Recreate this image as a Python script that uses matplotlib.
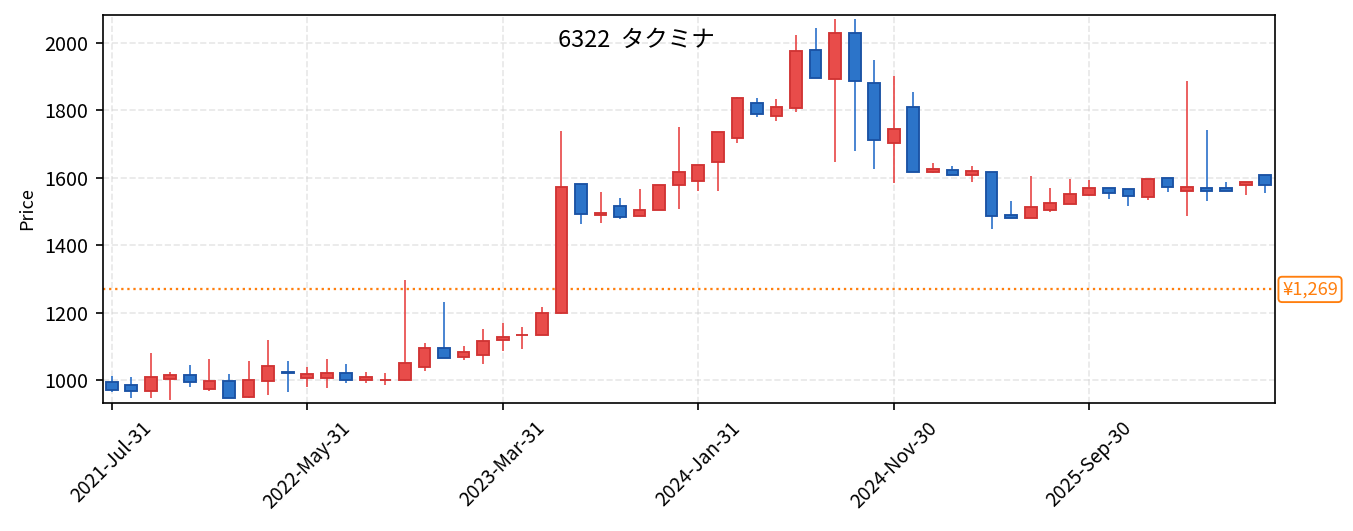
import matplotlib
matplotlib.use("Agg")
import matplotlib.pyplot as plt
import matplotlib.transforms as mtransforms
import numpy as np
import pandas as pd

plt.rcParams["font.family"] = ["Noto Sans CJK JP", "DejaVu Sans"]

TITLE = "6322  タクミナ"
REF_PRICE = 1269

# monthly bars, month-end dates
DATES = pd.date_range("2021-07-31", periods=60, freq="ME")

OPEN = [994, 985, 968, 1004, 1015, 975, 998, 950, 998, 1024,
        1007, 1007, 1022, 1001, 999, 1001, 1040, 1094, 1070, 1073,
        1118, 1133, 1133, 1198, 1581, 1490, 1515, 1486, 1505, 1580,
        1590, 1647, 1718, 1821, 1784, 1808, 1979, 1892, 2029, 1881,
        1703, 1809, 1617, 1622, 1608, 1618, 1491, 1480, 1505, 1523,
        1550, 1571, 1568, 1542, 1601, 1561, 1571, 1571, 1578, 1609]
HIGH = [1011, 1008, 1080, 1023, 1044, 1062, 1017, 1056, 1119, 1056,
        1040, 1062, 1047, 1023, 1020, 1296, 1110, 1233, 1101, 1152,
        1169, 1157, 1217, 1739, 1581, 1559, 1541, 1568, 1578, 1751,
        1639, 1737, 1841, 1838, 1834, 2023, 2044, 2071, 2071, 1951,
        1903, 1856, 1644, 1635, 1635, 1618, 1530, 1605, 1569, 1596,
        1593, 1571, 1568, 1598, 1601, 1886, 1742, 1587, 1589, 1609]
LOW = [964, 946, 946, 940, 979, 969, 948, 946, 955, 964,
       981, 978, 991, 991, 985, 997, 1027, 1067, 1060, 1048,
       1085, 1091, 1133, 1195, 1464, 1467, 1477, 1486, 1505, 1509,
       1561, 1561, 1704, 1780, 1770, 1794, 1895, 1648, 1681, 1627,
       1585, 1617, 1613, 1608, 1588, 1448, 1480, 1480, 1499, 1523,
       1546, 1537, 1517, 1535, 1558, 1487, 1532, 1561, 1549, 1556]
CLOSE = [971, 968, 1009, 1015, 995, 998, 948, 1000, 1042, 1022,
         1018, 1022, 1001, 1010, 1000, 1052, 1094, 1067, 1082, 1115,
         1128, 1134, 1200, 1572, 1493, 1497, 1484, 1506, 1578, 1618,
         1639, 1737, 1836, 1790, 1809, 1976, 1895, 2029, 1886, 1712,
         1746, 1617, 1625, 1608, 1619, 1488, 1480, 1513, 1526, 1552,
         1571, 1555, 1545, 1598, 1574, 1574, 1561, 1561, 1589, 1578]

UP_FILL, UP_EDGE, UP_WICK = "#e84c4a", "#d13434", "#e84545"
DN_FILL, DN_EDGE, DN_WICK = "#2c74c9", "#1a52a4", "#2a6fc9"


def main():
    o = np.array(OPEN, dtype=float)
    h = np.array(HIGH, dtype=float)
    l = np.array(LOW, dtype=float)
    c = np.array(CLOSE, dtype=float)
    x = np.arange(len(o))
    up = c >= o

    fig = plt.figure(figsize=(9.02, 3.54), dpi=150)
    ax = fig.add_axes([0.0759, 0.241, 0.8665, 0.7307])

    wick_cols = np.where(up, UP_WICK, DN_WICK)
    ax.vlines(x, l, h, colors=wick_cols, linewidth=0.8, zorder=2)

    bottom = np.minimum(o, c)
    height = np.maximum(np.abs(c - o), 1.0)
    ax.bar(x[up], height[up], bottom=bottom[up], width=0.6,
           color=UP_FILL, edgecolor=UP_EDGE, linewidth=0.9, zorder=3)
    ax.bar(x[~up], height[~up], bottom=bottom[~up], width=0.6,
           color=DN_FILL, edgecolor=DN_EDGE, linewidth=0.9, zorder=3)

    # reference price line + label on the right
    ax.axhline(REF_PRICE, color="#ff7f0e", linestyle=":", linewidth=1.1,
               zorder=1)
    trans = mtransforms.blended_transform_factory(ax.transAxes, ax.transData)
    ax.text(1.006, REF_PRICE, f"¥{REF_PRICE:,}", transform=trans,
            ha="left", va="center", fontsize=8.8, color="#ff7f0e",
            bbox=dict(boxstyle="round,pad=0.2", facecolor="white",
                      edgecolor="#ff7f0e", linewidth=0.9))

    ax.text(0.455, 0.935, TITLE, transform=ax.transAxes, ha="center",
            va="center", fontsize=11.3)

    ticks = x[::10]
    ax.set_xticks(ticks)
    ax.set_xticklabels([DATES[i].strftime("%Y-%b-%d") for i in ticks],
                       rotation=45, fontsize=9.2)
    ax.set_yticks(np.arange(1000, 2001, 200))
    ax.tick_params(axis="y", labelsize=9.5)
    ax.set_xlim(-0.46, 59.5)
    ax.set_ylim(932, 2083)
    ax.set_ylabel("Price", fontsize=8.7)
    ax.grid(True, linestyle="--", color="#d0d0d0", alpha=0.5, linewidth=0.8)
    ax.set_axisbelow(True)

    fig.savefig("out.png", dpi=150)


if __name__ == "__main__":
    main()
